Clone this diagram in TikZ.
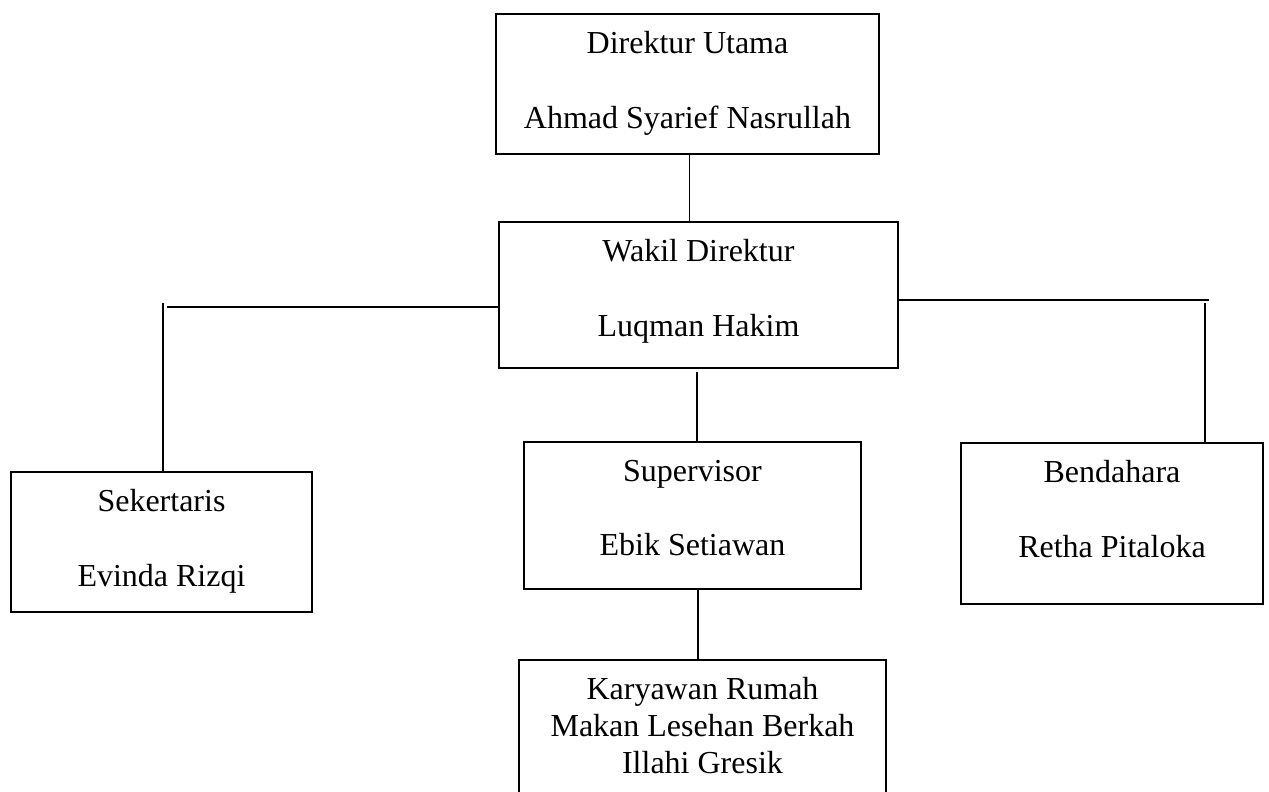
\documentclass[tikz,border=0pt]{standalone}
\usepackage{fontspec}
\setmainfont{Liberation Serif}
\usetikzlibrary{positioning,calc}

% box content: height, width, text (top aligned)
\newcommand{\isi}[3]{\parbox[c][#1][t]{#2}{\centering\rule{0pt}{19.75pt}#3}}

\begin{document}
\begin{tikzpicture}[x=0.5pt,y=-0.5pt,
    jabatan/.style={draw,line width=1pt,inner sep=0pt,anchor=north,
      font=\fontsize{16pt}{18.5pt}\selectfont},
    garis/.style={line width=0.9pt}
    ]
    \useasboundingbox (0,0) rectangle (1269,792);

    \node[jabatan] (dir) at (687.5,13) {\isi{70pt}{191.5pt}{Direktur Utama\\[19pt]Ahmad Syarief Nasrullah}};
    \node[jabatan] (wkl) at (698.5,221) {\isi{73pt}{199.5pt}{Wakil Direktur\\[19pt]Luqman Hakim}};
    \node[jabatan] (sek) at (161.5,471) {\isi{70pt}{150.5pt}{Sekertaris\\[19pt]Evinda Rizqi}};
    \node[jabatan] (spv) at (692.5,441) {\isi{73.5pt}{168.5pt}{Supervisor\\[18.5pt]Ebik Setiawan}};
    \node[jabatan] (bnd) at (1112,442) {\isi{80.5pt}{151pt}{Bendahara\\[19pt]Retha Pitaloka}};
    \node[jabatan] (kry) at (702.5,659) {\isi{72pt}{183.5pt}{Karyawan Rumah\\Makan Lesehan Berkah\\Illahi Gresik}};

    \coordinate (kiri) at (163,303);
    \coordinate (kiriH) at (167,307);
    \coordinate (kanan) at (1209,300);
    \coordinate (kananV) at (1205,303);

    % the lines
    \draw[garis] ([xshift=1pt]dir.south) -- ([xshift=1pt]dir.south |- wkl.north);
    \draw[garis] (kiriH) -- (kiriH -| wkl.west);
    \draw[garis] (kiri) -- (kiri |- sek.north);
    \draw[garis] (wkl.east |- kanan) -- (kanan);
    \draw[garis] (kananV) -- (kananV |- bnd.north);
    \draw[garis] ([xshift=-0.75pt,yshift=-1.5pt]wkl.south) -- ([xshift=-0.75pt]wkl.south |- spv.north);
    \draw[garis] ([xshift=2.75pt]spv.south) -- ([xshift=2.75pt]spv.south |- kry.north);
\end{tikzpicture}
\end{document}
